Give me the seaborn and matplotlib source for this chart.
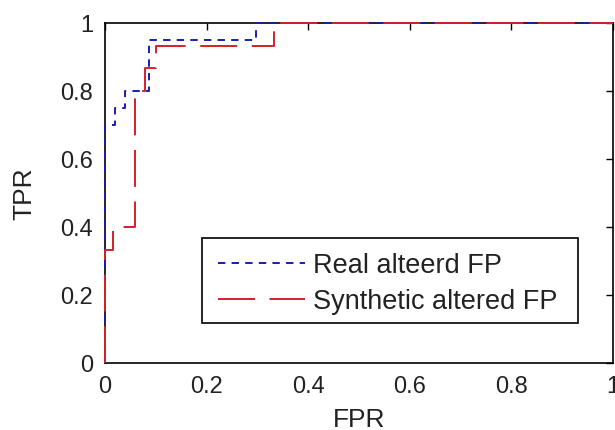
import matplotlib
matplotlib.use("Agg")
import matplotlib.pyplot as plt
import seaborn as sns
from matplotlib.ticker import FixedLocator, FuncFormatter
from matplotlib.patches import Rectangle

# ROC vertices (step curves)
real_fpr = [0, 0, 0.02, 0.02, 0.04, 0.04, 0.087, 0.087, 0.297, 0.297, 1.0]
real_tpr = [0, 0.70, 0.70, 0.75, 0.75, 0.80, 0.80, 0.95, 0.95, 1.0, 1.0]
syn_fpr = [0, 0, 0.0167, 0.0167, 0.0583, 0.0583, 0.0792, 0.0792, 0.10, 0.10, 0.333, 0.333, 1.0]
syn_tpr = [0, 0.333, 0.333, 0.40, 0.40, 0.80, 0.80, 0.867, 0.867, 0.933, 0.933, 1.0, 1.0]
labels = ["Real alteerd FP", "Synthetic altered FP"]
ticks = [0, 0.2, 0.4, 0.6, 0.8, 1.0]

sns.set_style("white")
plt.rcParams['font.family'] = ['Liberation Sans', 'DejaVu Sans']

W, H = 615, 431
fig = plt.figure(figsize=(W/100, H/100), dpi=100)
ax = fig.add_axes([105/W, 1-364/H, (613-105)/W, (364-24)/H])

sns.lineplot(x=real_fpr, y=real_tpr, sort=False, estimator=None, ax=ax,
             color="#1c1cb0", lw=1.4, linestyle=(0, (3.8, 3.2)), label=labels[0],
             clip_on=False, zorder=3)
sns.lineplot(x=syn_fpr, y=syn_tpr, sort=False, estimator=None, ax=ax,
             color="#d4202a", lw=1.4, linestyle=(0, (19, 7.5)), label=labels[1],
             clip_on=False, zorder=3)

ax.set_xlim(0, 1)
ax.set_ylim(0, 1)
ax.xaxis.set_major_locator(FixedLocator(ticks))
ax.yaxis.set_major_locator(FixedLocator(ticks))
fmt = FuncFormatter(lambda v, p: f"{v:g}")
ax.xaxis.set_major_formatter(fmt)
ax.yaxis.set_major_formatter(fmt)
ax.tick_params(direction="in", length=5, width=1, top=True, right=True,
               labelsize=17, color="black", labelcolor="#222222")
ax.tick_params(axis="x", pad=9)
ax.tick_params(axis="y", pad=8.5)
for s in ax.spines.values():
    s.set_color("black")
    s.set_linewidth(1.2)
ax.set_xlabel("FPR", fontsize=19, color="#222222", labelpad=7)
ax.set_ylabel("TPR", fontsize=19, color="#222222", labelpad=17)

# legend box (MATLAB-style, wide right margin)
ax.add_patch(Rectangle((202/W, 1-324/H), (578-202)/W, (324-239)/H,
                       transform=fig.transFigure, fill=True, facecolor="white",
                       edgecolor="black", linewidth=1.2, zorder=5, clip_on=False))
leg = ax.legend(loc="upper left", bbox_to_anchor=(218/W, 1-253/H),
                bbox_transform=fig.transFigure, borderaxespad=0, borderpad=0,
                fontsize=19.5, frameon=False, handlelength=3.2, handletextpad=0.3,
                labelspacing=0.37)
leg.set_zorder(6)
for t in leg.get_texts():
    t.set_color("#222222")

fig.savefig("out.png", dpi=100)
